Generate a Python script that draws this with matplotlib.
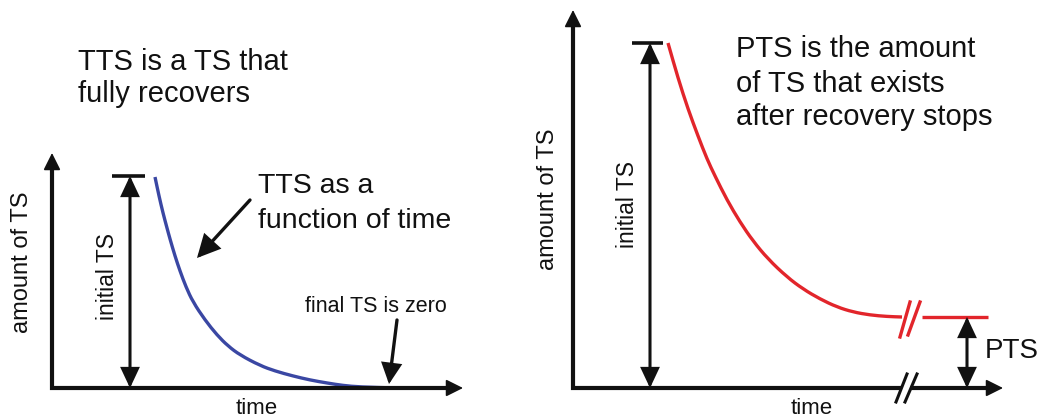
import matplotlib
matplotlib.use("Agg")
import matplotlib.pyplot as plt
from matplotlib.path import Path
from matplotlib.patches import PathPatch

plt.rcParams['font.family'] = ['Liberation Sans', 'DejaVu Sans']

# ---------------- data (time, amount) ----------------
# left panel: temporary threshold shift (TTS) decays to zero
tts_time = [103, 107, 111, 115, 118, 123, 128, 134, 141, 153, 165, 176, 188,
            208, 223, 241, 258, 275, 291, 308, 345]
tts_amount = [211, 192, 175, 160, 149, 132, 117, 101, 86, 68, 53, 42, 33,
              22.5, 17, 12, 8, 5, 2.5, 1, 0]
tts_initial = 212

# right panel: permanent threshold shift (PTS) levels off
pts_time = [95, 105, 115, 125, 134, 142, 154, 167, 180, 195, 214, 230, 247,
            264, 280, 297, 314, 329]
pts_amount = [345, 310, 279, 252, 229, 212, 188, 166, 147, 129, 111, 99, 89,
              81, 76, 73, 71.5, 71]
pts_tail_time = [349, 415]
pts_tail_amount = [71, 71]
pts_initial = 345
pts_final = 71

# ---------------- layout (pixels) ----------------
W, H = 1042, 420
LEFT_O = (52, 388)
RIGHT_O = (573, 388)
BLUE = '#3a47a3'
RED = '#e2252b'
INK = '#111111'

fig = plt.figure(figsize=(W / 100, H / 100), dpi=100)
ax = fig.add_axes([0, 0, 1, 1])
ax.set_xlim(0, W)
ax.set_ylim(H, 0)
ax.axis('off')


def P(o, t, a):
    return o[0] + t, o[1] - a


def arrow(start, end, style='-|>', hl=15, hw=7.5, lw=2.2, color=INK):
    ms = 10
    k = ms * 100 / 72.0
    ax.annotate('', xy=end, xytext=start,
                arrowprops=dict(arrowstyle=f'{style},head_length={hl / k:.3f},head_width={hw / k:.3f}',
                                lw=lw, color=color, shrinkA=0, shrinkB=0,
                                mutation_scale=ms, joinstyle='miter'))


def smooth_curve(xs, ys, color, lw):
    """Draw a smooth quadratic-Bezier path using the read points as control points."""
    pts = list(zip(xs, ys))
    verts = [pts[0]]
    codes = [Path.MOVETO]
    mid = lambda a, b: ((a[0] + b[0]) / 2, (a[1] + b[1]) / 2)
    verts.append(mid(pts[0], pts[1]))
    codes.append(Path.LINETO)
    for i in range(1, len(pts) - 1):
        verts += [pts[i], mid(pts[i], pts[i + 1])]
        codes += [Path.CURVE3, Path.CURVE3]
    verts.append(pts[-1])
    codes.append(Path.LINETO)
    ax.add_patch(PathPatch(Path(verts, codes), facecolor='none', edgecolor=color,
                           lw=lw, capstyle='butt'))


AX_LW = 3.0

# ---------- left panel ----------
ox, oy = LEFT_O
ytip, xtip = 153, 463
ax.plot([ox, ox, xtip - 10], [ytip + 10, oy, oy], color=INK, lw=AX_LW,
        solid_joinstyle='miter', solid_capstyle='butt')
arrow((ox, ytip + 20), (ox, ytip), hl=15, hw=7.5, lw=1)
arrow((xtip - 20, oy), (xtip, oy), hl=15, hw=7.5, lw=1)

# initial TS bar and double arrow
bx0, by = P(LEFT_O, 60, tts_initial)
bx1, _ = P(LEFT_O, 93, tts_initial)
ax.plot([bx0, bx1], [by, by], color=INK, lw=2.6, solid_capstyle='butt')
ax_x, _ = P(LEFT_O, 78, 0)
arrow((ax_x, oy), (ax_x, by), style='<|-|>', hl=16, hw=7.5, lw=2.2)

# curve
smooth_curve([ox + t for t in tts_time], [oy - a for a in tts_amount], BLUE, 2.4)

# pointer arrows
arrow((250, 200), (197, 258), hl=18, hw=9, lw=2.4)
arrow((397, 320), (389, 384), hl=16, hw=8, lw=2.4)

# texts
FS_BIG = 21
ax.text(78, 70, 'TTS is a TS that', fontsize=FS_BIG, color=INK, va='baseline', ha='left')
ax.text(78, 102, 'fully recovers', fontsize=FS_BIG, color=INK, va='baseline', ha='left')
ax.text(258, 193, 'TTS as a', fontsize=20.5, color=INK, va='baseline', ha='left')
ax.text(258, 228, 'function of time', fontsize=20.5, color=INK, va='baseline', ha='left')
ax.text(447, 312, 'final TS is zero', fontsize=15.5, color=INK, va='baseline', ha='right')
ax.text(257, 414, 'time', fontsize=16, color=INK, va='baseline', ha='center')
ax.text(22, 262, 'amount of TS', fontsize=17, color=INK, rotation=90, va='center', ha='center')
ax.text(107, 277, 'initial TS', fontsize=16.5, color=INK, rotation=90, va='center', ha='center')

# ---------- right panel ----------
ox, oy = RIGHT_O
ytip, xtip = 10, 1003
brk_a, brk_b = 902, 910
ax.plot([ox, ox, brk_a], [ytip + 10, oy, oy], color=INK, lw=AX_LW,
        solid_joinstyle='miter', solid_capstyle='butt')
ax.plot([brk_b, xtip - 10], [oy, oy], color=INK, lw=AX_LW, solid_capstyle='butt')
arrow((ox, ytip + 20), (ox, ytip), hl=15, hw=7.5, lw=1)
arrow((xtip - 20, oy), (xtip, oy), hl=15, hw=7.5, lw=1)
# axis break marks
ax.plot([896, 907], [402, 374], color=INK, lw=2.2)
ax.plot([905, 917], [402, 374], color=INK, lw=2.2)

# initial TS bar and double arrow
bx0, by = P(RIGHT_O, 59, pts_initial)
bx1, _ = P(RIGHT_O, 90, pts_initial)
ax.plot([bx0, bx1], [by, by], color=INK, lw=2.6, solid_capstyle='butt')
ax_x, _ = P(RIGHT_O, 77, 0)
arrow((ax_x, oy), (ax_x, by), style='<|-|>', hl=16, hw=7.5, lw=2.2)

# curve
smooth_curve([ox + t for t in pts_time], [oy - a for a in pts_amount], RED, 2.4)
ax.plot([ox + t for t in pts_tail_time], [oy - a for a in pts_tail_amount],
        color=RED, lw=2.4, solid_capstyle='butt')
# curve break marks
ax.plot([900, 910], [337, 302], color=RED, lw=2.4)
ax.plot([908, 920], [335, 302], color=RED, lw=2.4)

# PTS double arrow
px_, py_ = P(RIGHT_O, 394, pts_final)
arrow((px_, oy), (px_, py_), style='<|-|>', hl=16, hw=7.5, lw=2.2)

ax.text(736, 57, 'PTS is the amount', fontsize=FS_BIG, color=INK, va='baseline', ha='left')
ax.text(736, 92, 'of TS that exists', fontsize=FS_BIG, color=INK, va='baseline', ha='left')
ax.text(736, 125, 'after recovery stops', fontsize=FS_BIG, color=INK, va='baseline', ha='left')
ax.text(985, 358, 'PTS', fontsize=20, color=INK, va='baseline', ha='left')
ax.text(812, 414, 'time', fontsize=16, color=INK, va='baseline', ha='center')
ax.text(548, 199, 'amount of TS', fontsize=17, color=INK, rotation=90, va='center', ha='center')
ax.text(628, 204, 'initial TS', fontsize=16.5, color=INK, rotation=90, va='center', ha='center')

fig.savefig('out.png', dpi=100, facecolor='white')
